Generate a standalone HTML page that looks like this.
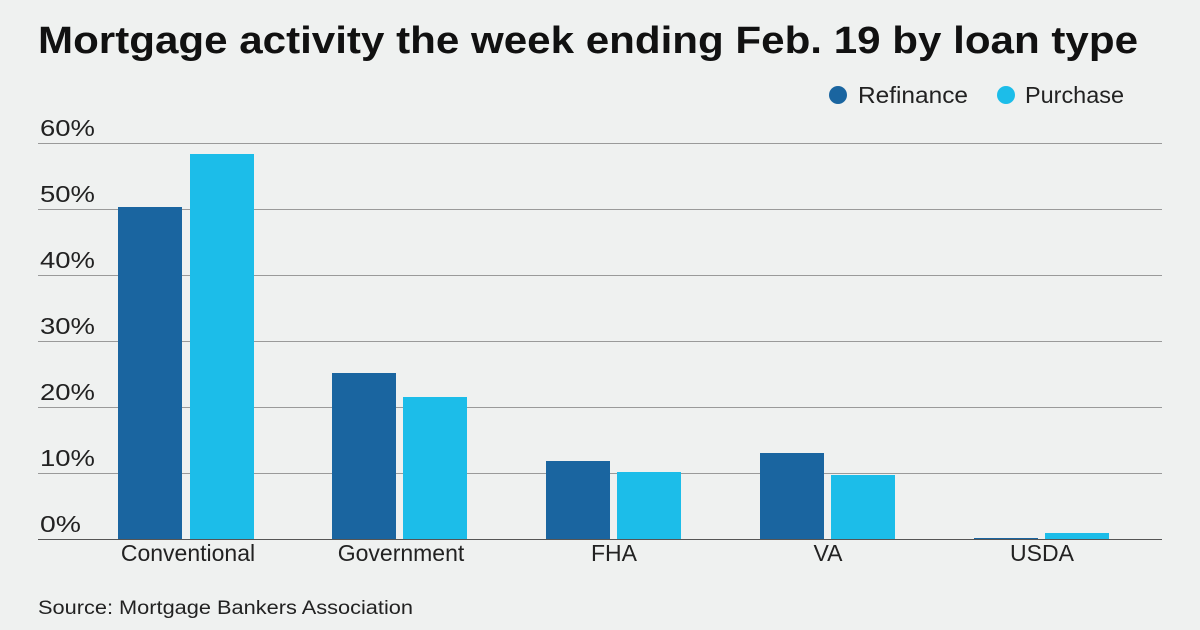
<!DOCTYPE html>
<html><head><style>
body{margin:0;background:#eff1f0;}
svg{display:block;font-family:"Liberation Sans",sans-serif;}
</style></head><body>
<svg width="1200" height="630" viewBox="0 0 1200 630">
<rect width="1200" height="630" fill="#eff1f0"/>
<text x="38" y="53" font-size="38" font-weight="bold" fill="#111" textLength="1100" lengthAdjust="spacingAndGlyphs">Mortgage activity the week ending Feb. 19 by loan type</text>
<circle cx="838" cy="95" r="9" fill="#1a65a0"/>
<text x="858" y="103" font-size="23" fill="#222" textLength="110" lengthAdjust="spacingAndGlyphs">Refinance</text>
<circle cx="1006" cy="95" r="9" fill="#1cbde9"/>
<text x="1025" y="103" font-size="23" fill="#222" textLength="99" lengthAdjust="spacingAndGlyphs">Purchase</text>
<g stroke="#9a9a9a" stroke-width="1">
<line x1="38" x2="1162" y1="143.5" y2="143.5"/>
<line x1="38" x2="1162" y1="209.5" y2="209.5"/>
<line x1="38" x2="1162" y1="275.5" y2="275.5"/>
<line x1="38" x2="1162" y1="341.5" y2="341.5"/>
<line x1="38" x2="1162" y1="407.5" y2="407.5"/>
<line x1="38" x2="1162" y1="473.5" y2="473.5"/>
</g>
<g font-size="23" fill="#222">
<text x="40" y="136" textLength="55" lengthAdjust="spacingAndGlyphs">60%</text>
<text x="40" y="202" textLength="55" lengthAdjust="spacingAndGlyphs">50%</text>
<text x="40" y="268" textLength="55" lengthAdjust="spacingAndGlyphs">40%</text>
<text x="40" y="334" textLength="55" lengthAdjust="spacingAndGlyphs">30%</text>
<text x="40" y="400" textLength="55" lengthAdjust="spacingAndGlyphs">20%</text>
<text x="40" y="466" textLength="55" lengthAdjust="spacingAndGlyphs">10%</text>
<text x="40" y="532" textLength="41" lengthAdjust="spacingAndGlyphs">0%</text>
</g>
<g fill="#1a65a0">
<rect x="118" y="207" width="64" height="332"/>
<rect x="332" y="373" width="64" height="166"/>
<rect x="546" y="461" width="64" height="78"/>
<rect x="760" y="453" width="64" height="86"/>
<rect x="974" y="538" width="64" height="1"/>
</g>
<g fill="#1cbde9">
<rect x="190" y="154" width="64" height="385"/>
<rect x="403" y="397" width="64" height="142"/>
<rect x="617" y="472" width="64" height="67"/>
<rect x="831" y="475" width="64" height="64"/>
<rect x="1045" y="533" width="64" height="6"/>
</g>
<line x1="38" x2="1162" y1="539.5" y2="539.5" stroke="#555" stroke-width="1"/>
<g font-size="23" fill="#222" text-anchor="middle">
<text x="188" y="561">Conventional</text>
<text x="401" y="561">Government</text>
<text x="614" y="561">FHA</text>
<text x="828" y="561">VA</text>
<text x="1042" y="561">USDA</text>
</g>
<text x="38" y="614" font-size="19" fill="#222" textLength="375" lengthAdjust="spacingAndGlyphs">Source: Mortgage Bankers Association</text>
</svg>
</body></html>
